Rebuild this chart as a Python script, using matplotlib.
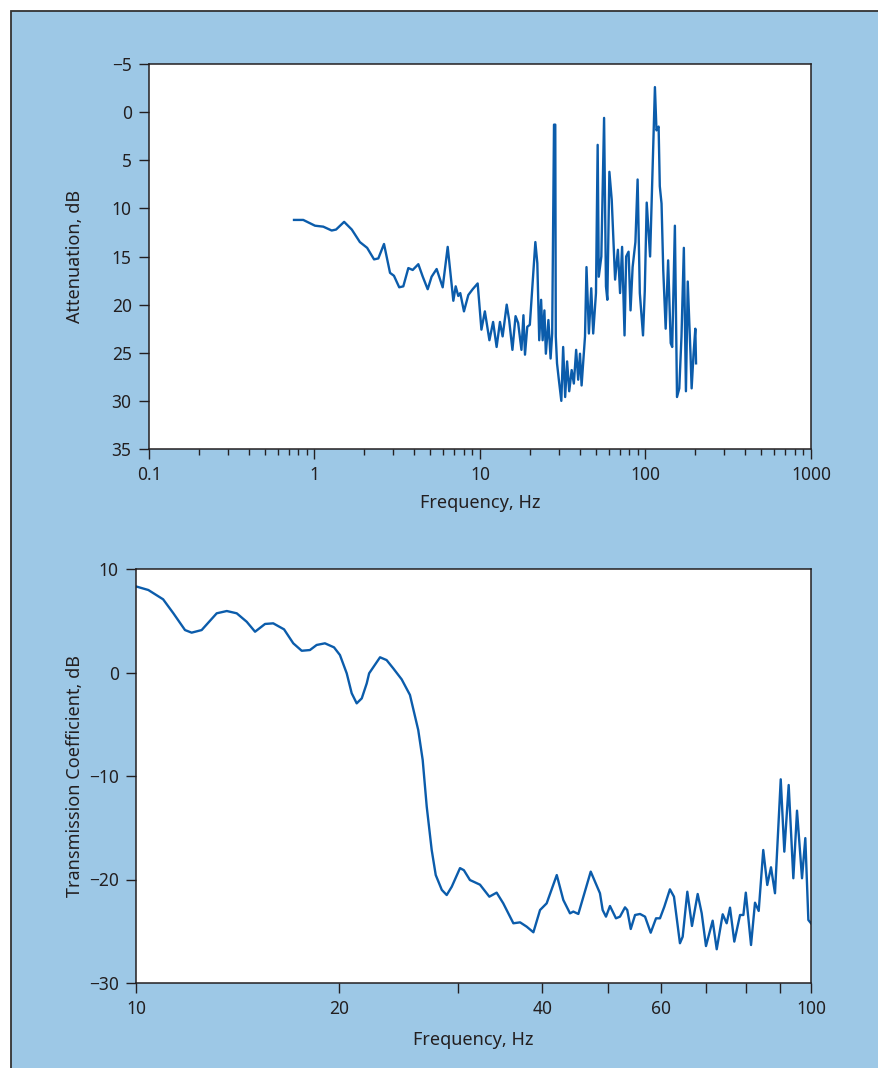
#!/usr/bin/env python3

import numpy as np
import matplotlib
matplotlib.use("Agg")
import matplotlib.pyplot as plt
from matplotlib.patches import Rectangle
from matplotlib.ticker import FixedLocator, FixedFormatter, NullLocator, LogLocator, NullFormatter

# top panel: attenuation vs frequency (Hz, dB)
att_freq = [0.752, 0.855, 1.007, 1.13, 1.27, 1.35, 1.51, 1.68, 1.88, 2.08, 2.29, 2.43, 2.63,
            2.86, 3.02, 3.25, 3.44, 3.69, 3.92, 4.24, 4.51, 4.83, 5.1, 5.47, 5.95, 6.38, 6.9,
            7.13, 7.39, 7.6, 8.0, 8.5, 9.03, 9.68, 10.2, 10.7, 11.4, 12.0, 12.6, 13.2, 13.7,
            14.5, 15.0, 15.7, 16.4, 17.0, 17.8, 18.3, 18.7, 19.3, 20.0, 21.6, 22.2, 22.8,
            23.4, 23.9, 24.5, 25.0, 25.9, 26.7, 27.3, 28.0, 28.5, 28.7, 29.2, 29.9, 31.0,
            31.8, 32.7, 33.6, 34.6, 35.8, 36.9, 38.1, 39.2, 40.2, 41.1, 43.1, 44.0, 45.5,
            47.0, 48.3, 50.2, 51.4, 52.2, 54.1, 56.2, 57.7, 58.8, 60.5, 62.5, 65.5, 68.1,
            70.2, 72.2, 74.7, 76.4, 79.0, 81.2, 83.6, 86.9, 89.6, 92.4, 96.6, 99.0, 101.7,
            106.6, 114.0, 116.5, 120.0, 122.0, 125.0, 128.0, 132.4, 137.0, 142.0, 145.0,
            150.5, 155.0, 160.0, 165.0, 170.5, 175.5, 180.0, 187.0, 190.0, 195.0, 200.0, 202.0]
att_db = [11.2, 11.2, 11.8, 11.9, 12.3, 12.2, 11.4, 12.2, 13.5, 14.1, 15.3, 15.2, 13.7,
          16.7, 17.0, 18.2, 18.1, 16.2, 16.4, 15.8, 17.1, 18.4, 17.1, 16.3, 18.2, 14.0, 19.6,
          18.1, 19.1, 18.8, 20.7, 19.0, 18.4, 17.8, 22.6, 20.7, 23.7, 21.8, 24.4, 21.8, 23.3,
          20.0, 21.6, 24.7, 21.2, 21.9, 24.7, 21.1, 25.2, 22.3, 22.1, 13.5, 15.7, 23.7,
          19.5, 23.7, 20.6, 25.1, 21.6, 25.6, 23.0, 1.3, 1.3, 23.3, 26.1, 27.7, 30.0,
          24.4, 29.6, 25.9, 29.0, 26.8, 28.2, 24.7, 27.8, 25.1, 28.4, 23.3, 16.1, 23.0,
          18.3, 23.0, 18.8, 3.4, 17.1, 15.0, 0.6, 18.1, 19.5, 6.2, 9.1, 17.4, 14.3,
          18.8, 14.0, 23.2, 15.0, 14.5, 20.6, 16.1, 13.5, 7.0, 18.8, 23.2, 18.6, 9.4,
          15.0, -2.6, 1.9, 1.5, 7.7, 9.5, 16.4, 22.5, 15.4, 24.0, 24.4,
          11.8, 29.6, 28.7, 23.3, 14.1, 29.0, 17.6, 25.1, 28.7, 25.2, 22.5, 26.1]

# bottom panel: transmission coefficient vs frequency (Hz, dB)
tc_freq = [10.02, 10.43, 10.97, 11.36, 11.82, 12.09, 12.51, 13.17, 13.63, 14.1, 14.59, 15.01,
           15.53, 15.97, 16.57, 17.1, 17.6, 18.1, 18.52, 19.05, 19.65, 20.05, 20.52, 20.87,
           21.23, 21.6, 21.97, 22.15, 22.99, 23.51, 24.05, 24.75, 25.46, 26.19, 26.59,
           26.96, 27.42, 27.8, 28.38, 28.86, 29.36, 30.2, 30.6, 31.24, 32.33, 33.38, 34.22,
           35.0, 36.23, 37.07, 37.92, 38.79, 39.68, 40.59, 42.01, 42.96, 43.95, 44.45, 45.22,
           47.17, 48.68, 49.13, 49.69, 50.37, 51.41, 52.12, 53.02, 53.43, 54.07, 54.87, 55.81,
           56.77, 57.88, 58.94, 59.74, 60.63, 61.8, 62.66, 63.95, 64.55, 65.58, 66.63, 67.94,
           68.88, 69.89, 71.5, 72.5, 73.99, 75.0, 75.86, 76.98, 78.5, 79.4, 80.06, 81.5,
           82.61, 83.66, 84.97, 86.14, 87.24, 88.44, 90.19, 91.3, 92.67, 94.15, 95.34, 96.98,
           98.08, 99.1, 100.0]
tc_db = [8.3, 7.97, 7.07, 5.72, 4.1, 3.85, 4.1, 5.72, 5.94, 5.72, 4.9, 3.94,
         4.69, 4.75, 4.17, 2.82, 2.1, 2.17, 2.66, 2.82, 2.43, 1.69, -0.08, -2.0,
         -2.98, -2.5, -1.05, -0.08, 1.47, 1.2, 0.4, -0.66, -2.17, -5.56, -8.45,
         -12.97, -17.15, -19.57, -21.0, -21.5, -20.7, -18.9, -19.1, -20.05, -20.5, -21.66, -21.27,
         -22.3, -24.23, -24.14, -24.56, -25.1, -22.95, -22.3, -19.57, -21.98, -23.27, -23.1, -23.33,
         -19.24, -21.33, -22.95, -23.59, -22.56, -23.75, -23.59, -22.69, -22.95, -24.78, -23.43, -23.33,
         -23.59, -25.14, -23.75, -23.75, -22.63, -20.95, -21.66, -26.16, -25.53, -21.18, -24.49, -21.4,
         -23.27, -26.43, -23.98, -26.74, -23.36, -24.23, -22.72, -26.0, -23.43, -23.43, -21.27, -26.33,
         -22.24, -23.04, -17.15, -20.53, -18.82, -21.33, -10.32, -17.31, -10.87, -19.88, -13.35, -19.88,
         -16.0, -23.91, -24.23]

bottom_ticks = [10, 20, 30, 40, 50, 60, 70, 80, 90, 100]
bottom_labels = ["10", "20", "", "40", "", "60", "", "", "", "100"]

BG = "#9dc8e6"
LINE = "#0b5cab"
TXT = "#231f20"

plt.rcParams['font.family'] = ['Noto Sans', 'DejaVu Sans']
plt.rcParams['font.size'] = 13
plt.rcParams['text.color'] = TXT
plt.rcParams['axes.labelcolor'] = TXT
plt.rcParams['xtick.color'] = TXT
plt.rcParams['ytick.color'] = TXT

fig = plt.figure(figsize=(8.79, 10.68), dpi=100)
fig.patch.set_facecolor("white")
# blue panel with dark frame on left/top, kept behind the axes
panel = Rectangle((10.5 / 879, -0.05), 1.2, 1 - 10.5 / 1068 + 0.05,
                  transform=fig.transFigure, facecolor=BG,
                  edgecolor="#333333", linewidth=1.3, zorder=-10)
fig.patches.append(panel)


def style_axes(ax):
    for s in ax.spines.values():
        s.set_color(TXT)
        s.set_linewidth(1.1)
    ax.tick_params(which="major", direction="out", length=7.5, width=1.0, labelsize=12.5, pad=5)
    ax.tick_params(which="minor", direction="out", length=4, width=1.0)


# top panel
ax1 = fig.add_axes([149 / 879, 1 - 449 / 1068, 662 / 879, 385 / 1068])
ax1.plot(att_freq, att_db, color=LINE, linewidth=1.7)
ax1.set_xscale("log")
ax1.set_xlim(0.1, 1000)
ax1.set_ylim(35, -5)
ax1.set_yticks([-5, 0, 5, 10, 15, 20, 25, 30, 35])
ax1.xaxis.set_major_locator(FixedLocator([0.1, 1, 10, 100, 1000]))
ax1.xaxis.set_major_formatter(FixedFormatter(["0.1", "1", "10", "100", "1000"]))
ax1.xaxis.set_minor_locator(LogLocator(base=10, subs=np.arange(2, 10)))
ax1.xaxis.set_minor_formatter(NullFormatter())
ax1.set_xlabel("Frequency, Hz")
ax1.set_ylabel("Attenuation, dB")
ax1.xaxis.set_label_coords(0.5, -0.117)
ax1.yaxis.set_label_coords(-0.098, 0.5)
style_axes(ax1)

# bottom panel
ax2 = fig.add_axes([136 / 879, 1 - 983 / 1068, 675 / 879, 414 / 1068])
ax2.plot(tc_freq, tc_db, color=LINE, linewidth=1.7)
ax2.set_xscale("log")
ax2.set_xlim(10, 100)
ax2.set_ylim(-30, 10)
ax2.set_yticks([-30, -20, -10, 0, 10])
ax2.xaxis.set_major_locator(FixedLocator(bottom_ticks))
ax2.xaxis.set_major_formatter(FixedFormatter(bottom_labels))
ax2.xaxis.set_minor_locator(NullLocator())
ax2.set_xlabel("Frequency, Hz")
ax2.set_ylabel("Transmission Coefficient, dB")
ax2.xaxis.set_label_coords(0.5, -0.116)
ax2.yaxis.set_label_coords(-0.077, 0.5)
style_axes(ax2)

fig.savefig("out.png", dpi=100, facecolor=fig.get_facecolor())
